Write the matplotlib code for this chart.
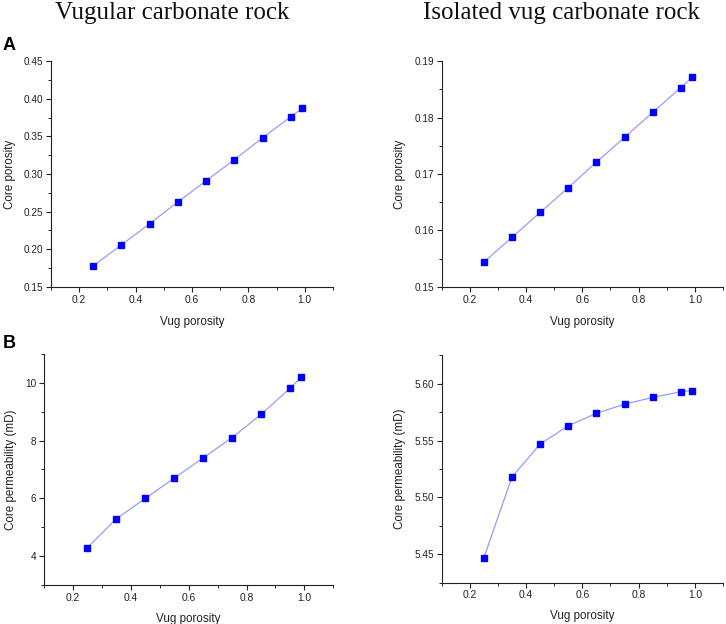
import matplotlib
matplotlib.use("Agg")
import matplotlib.pyplot as plt
from matplotlib.ticker import MultipleLocator

vug_porosity = [0.25, 0.35, 0.45, 0.55, 0.65, 0.75, 0.85, 0.95, 0.99]
vugular_core_porosity = [0.178, 0.206, 0.234, 0.263, 0.291, 0.319, 0.348, 0.376, 0.387]
isolated_core_porosity = [0.1544, 0.1588, 0.1632, 0.1676, 0.1721, 0.1765, 0.1809, 0.1853, 0.1871]
vugular_core_perm = [4.3, 5.3, 6.0, 6.7, 7.4, 8.1, 8.9, 9.8, 10.2]
isolated_core_perm = [5.447, 5.518, 5.547, 5.563, 5.574, 5.582, 5.588, 5.593, 5.594]

titles = ["Vugular carbonate rock", "Isolated vug carbonate rock"]
xlabel = "Vug porosity"
ylabel_por = "Core porosity"
ylabel_perm = "Core permeability (mD)"
x_ticks = [0.2, 0.4, 0.6, 0.8, 1.0]
y_ticks_a_left = [0.15, 0.20, 0.25, 0.30, 0.35, 0.40, 0.45]
y_ticks_a_right = [0.15, 0.16, 0.17, 0.18, 0.19]
y_ticks_b_left = [4, 6, 8, 10]
y_ticks_b_right = [5.45, 5.50, 5.55, 5.60]

plt.rcParams['font.family'] = ['Liberation Sans', 'DejaVu Sans']

fig = plt.figure(figsize=(7.26, 6.24), dpi=100)

specs = [
    ([0.0702, 0.5401, 0.3885, 0.3621], vugular_core_porosity, (0.15, 0.45), y_ticks_a_left, 0.025, "{:.2f}", ylabel_por, -0.124, -0.128),
    ([0.6084, 0.5401, 0.3875, 0.3621], isolated_core_porosity, (0.15, 0.19), y_ticks_a_right, 0.005, "{:.2f}", ylabel_por, -0.127, -0.128),
    ([0.0606, 0.0620, 0.3985, 0.3712], vugular_core_perm, (3, 11), y_ticks_b_left, 1, "{:.0f}", ylabel_perm, -0.093, -0.12),
    ([0.6084, 0.0662, 0.3875, 0.3644], isolated_core_perm, (5.425, 5.625), y_ticks_b_right, 0.025, "{:.2f}", ylabel_perm, -0.127, -0.12),
]

for rect, ydata, ylim, yt, minor, fmt, ylab, ylx, xly in specs:
    ax = fig.add_axes(rect)
    ax.plot(vug_porosity, ydata, color='#9b9bf5', lw=0.9, zorder=2)
    ax.plot(vug_porosity, ydata, ls='none', marker='s', ms=4.5, color='#0000ff',
            mec='#0000ff', zorder=3)
    ax.set_xlim(0.1, 1.1)
    ax.set_ylim(*ylim)
    ax.xaxis.set_minor_locator(MultipleLocator(0.1))
    ax.yaxis.set_minor_locator(MultipleLocator(minor))
    ax.set_xticks(x_ticks)
    ax.set_xticklabels(["{:.1f}".format(t) for t in x_ticks])
    ax.set_yticks(yt)
    ax.set_yticklabels([fmt.format(t) for t in yt])
    for s in ['top', 'right']:
        ax.spines[s].set_visible(False)
    for s in ['left', 'bottom']:
        ax.spines[s].set_linewidth(0.8)
        ax.spines[s].set_color('#222222')
    ax.tick_params(which='major', direction='out', length=3.5, width=0.8,
                   colors='#222222', pad=2)
    ax.tick_params(axis='y', which='major', labelsize=7.2)
    ax.tick_params(axis='x', which='major', labelsize=7.4)
    ax.tick_params(which='minor', direction='out', length=2, width=0.7, colors='#222222')
    ax.set_xlabel(xlabel, fontsize=8.4, color='#222222')
    ax.set_ylabel(ylab, fontsize=8.4, color='#222222')
    ax.yaxis.set_label_coords(ylx, 0.5)
    ax.xaxis.set_label_coords(0.5, xly)
    ax.set_facecolor('none')

fig.text(171.7 / 726, 1 - 19 / 624, titles[0], family='Liberation Serif', fontsize=18,
         ha='center', va='baseline', color='#111111')
fig.text(561 / 726, 1 - 19 / 624, titles[1], family='Liberation Serif', fontsize=18,
         ha='center', va='baseline', color='#111111')
fig.text(3 / 726, 1 - 50 / 624, "A", fontsize=13, fontweight='bold', ha='left', va='baseline')
fig.text(3 / 726, 1 - 348.5 / 624, "B", fontsize=13, fontweight='bold', ha='left', va='baseline')

fig.savefig("out.png", dpi=100)
